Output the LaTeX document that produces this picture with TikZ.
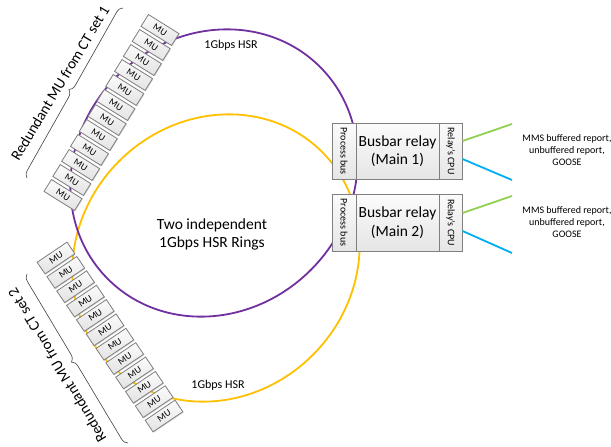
\documentclass[tikz,border=0pt]{standalone}
\usepackage{fontspec}
\setmainfont{Carlito}
\usetikzlibrary{shadows,decorations.pathreplacing}
\definecolor{ringpurple}{HTML}{7030A0}
\definecolor{ringyellow}{HTML}{FFC000}
\definecolor{lgreen}{HTML}{92D050}
\definecolor{lblue}{HTML}{00B0F0}
\definecolor{boxborder}{HTML}{7F7F7F}
\begin{document}
\begin{tikzpicture}[x=1pt,y=-1pt,
  ring/.style={line width=1.8pt},
  mubox/.style={draw=boxborder, line width=0.8pt, top color=gray!3, bottom color=gray!22,
    minimum width=36pt, minimum height=14pt, inner sep=0pt,
    font=\fontsize{9.5}{10}\selectfont,
    drop shadow={shadow xshift=0.8pt, shadow yshift=-0.8pt, opacity=0.3}},
  relaypart/.style={draw=boxborder, line width=1pt, top color=gray!3, bottom color=gray!20,
    inner sep=0pt, drop shadow={shadow xshift=1pt, shadow yshift=-1pt, opacity=0.3}},
  bracestyle/.style={decorate, decoration={brace, amplitude=7pt}, draw=black!75, line width=0.6pt},
  biglabel/.style={font=\fontsize{15}{18}\selectfont},
  mainlabel/.style={align=center, font=\fontsize{15.5}{18.6}\selectfont},
  smalllabel/.style={font=\fontsize{12}{14}\selectfont},
  sidelabel/.style={font=\fontsize{10}{12}\selectfont},
  reportlabel/.style={align=center, font=\fontsize{10}{12}\selectfont},
  greenl/.style={draw=lgreen, line width=1.8pt},
  bluel/.style={draw=lblue, line width=1.8pt}
]
\useasboundingbox (0,0) rectangle (611,447);

% rings
\draw[ring, ringyellow, rotate around={45:(216,258)}] (216,258) ellipse [x radius=150pt, y radius=137pt];
\draw[ring, ringpurple, rotate around={45:(214,173)}] (214,173) ellipse [x radius=150pt, y radius=137pt];

% MU stack 1
\foreach \i in {0,...,11} {
  \pgfmathsetmacro\xx{160-97*\i/11}
  \pgfmathsetmacro\yy{30+165*\i/11}
  \node[mubox, rotate=-32] (mua\i) at (\xx,\yy) {MU};
}
% MU stack 2
\foreach \i in {0,...,11} {
  \pgfmathsetmacro\xx{56+108*\i/11}
  \pgfmathsetmacro\yy{258+158*\i/11}
  \node[mubox, rotate=34] (mub\i) at (\xx,\yy) {MU};
}

% braces and labels
\coordinate (bra1s) at (27,178);
\coordinate (bra1e) at (123,8);
\draw[bracestyle] (bra1s) -- (bra1e);
\node[biglabel, rotate=59] (lab1) at (60,83) {Redundant MU from CT set 1};

\coordinate (bra2s) at (128,443);
\coordinate (bra2e) at (27,274);
\draw[bracestyle] (bra2s) -- (bra2e);
\node[biglabel, rotate=121] (lab2) at (57,365) {Redundant MU from CT set 2};

% relay 1
\node[relaypart, minimum width=24pt, minimum height=56pt] (pbus1) at (344,151) {};
\node[relaypart, minimum width=83pt, minimum height=56pt] (main1) at (397.5,151) {};
\node[relaypart, minimum width=23pt, minimum height=56pt] (cpu1) at (450.5,151) {};
\node[sidelabel, rotate=-90] (pbus1t) at (pbus1.center) {Process bus};
\node[mainlabel] (main1t) at (main1.center) {Busbar relay\\(Main 1)};
\node[sidelabel, rotate=-90] (cpu1t) at (cpu1.center) {Relay’s CPU};

% relay 2
\node[relaypart, minimum width=24pt, minimum height=57pt] (pbus2) at (344,222.5) {};
\node[relaypart, minimum width=83pt, minimum height=57pt] (main2) at (397.5,222.5) {};
\node[relaypart, minimum width=23pt, minimum height=57pt] (cpu2) at (450.5,222.5) {};
\node[sidelabel, rotate=-90] (pbus2t) at (pbus2.center) {Process bus};
\node[mainlabel] (main2t) at (main2.center) {Busbar relay\\(Main 2)};
\node[sidelabel, rotate=-90] (cpu2t) at (cpu2.center) {Relay’s CPU};

% outgoing links
\coordinate (g1) at (512,124);
\coordinate (b1) at (512,180);
\coordinate (g2) at (512,196);
\coordinate (b2) at (512,253);
\draw[greenl] ([yshift=10pt]cpu1.east) -- (g1);
\draw[bluel] ([yshift=-8pt]cpu1.east) -- (b1);
\draw[greenl] ([yshift=9.5pt]cpu2.east) -- (g2);
\draw[bluel] ([yshift=-8.5pt]cpu2.east) -- (b2);

\node[reportlabel] (rep1) at (567,150) {MMS buffered report,\\unbuffered report,\\GOOSE};
\node[reportlabel] (rep2) at (567,222) {MMS buffered report,\\unbuffered report,\\GOOSE};

% ring labels
\node[smalllabel] (hsr1) at (231,45) {1Gbps HSR};
\node[smalllabel] (hsr2) at (218,385) {1Gbps HSR};
\node[mainlabel] (centre) at (212,234.5) {Two independent\\1Gbps HSR Rings};
\end{tikzpicture}
\end{document}
